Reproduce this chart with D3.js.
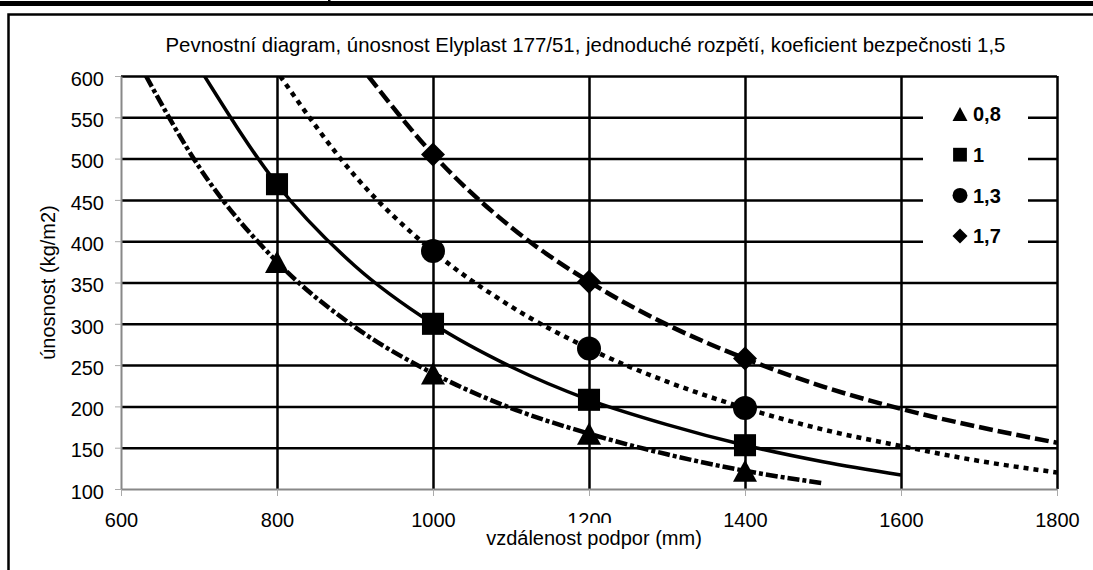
<!DOCTYPE html>
<html>
<head>
<meta charset="utf-8">
<script src="https://cdn.jsdelivr.net/npm/d3@7"></script>
<style>
  body { margin: 0; background: #fff; }
  text { font-family: "Liberation Sans", Arial, sans-serif; }
</style>
</head>
<body>
<div id="chart"></div>
<script>
// axis ticks
var xTicks = [600, 800, 1000, 1200, 1400, 1600, 1800];
var yTicks = [100, 150, 200, 250, 300, 350, 400, 450, 500, 550, 600];

// series (koeficient) names
var names = ["0,8", "1", "1,3", "1,7"];

// measured points (markers)
var pts08 = [[800, 375], [1000, 240], [1200, 167], [1400, 122]];
var pts10 = [[800, 469], [1000, 300], [1200, 208], [1400, 153]];
var pts13 = [[1000, 388], [1200, 270], [1400, 198]];
var pts17 = [[1000, 505], [1200, 351], [1400, 258]];

// trend curves
var trend08 = [[632, 600], [700, 490], [800, 375], [900, 296], [1000, 240], [1100, 198],
               [1200, 167], [1300, 142], [1400, 122], [1500, 107]];
var trend10 = [[707, 600], [800, 469], [900, 370], [1000, 300], [1100, 248], [1200, 208],
               [1300, 178], [1400, 153], [1500, 133], [1600, 117]];
var trend13 = [[804, 600], [900, 479], [1000, 388], [1100, 321], [1200, 270], [1300, 230],
               [1400, 198], [1500, 172], [1600, 152], [1700, 134], [1800, 120]];
var trend17 = [[917, 600], [1000, 505], [1100, 417], [1200, 351], [1300, 299], [1400, 258],
               [1500, 224], [1600, 197], [1700, 175], [1800, 156]];

var series = [
  {name: names[0], pts: pts08, trend: trend08, shape: "triangle", dash: "12,3,4,3", sw: 4.5},
  {name: names[1], pts: pts10, trend: trend10, shape: "square", dash: null, sw: 3.5},
  {name: names[2], pts: pts13, trend: trend13, shape: "circle", dash: "5,5", sw: 4.5},
  {name: names[3], pts: pts17, trend: trend17, shape: "diamond", dash: "14,5", sw: 4.5}
];

var margin = {top: 76, right: 36, bottom: 81, left: 121},
    width = 1093 - margin.left - margin.right,
    height = 570 - margin.top - margin.bottom;

var root = d3.select("#chart")
  .append("svg")
    .attr("width", 1093)
    .attr("height", 570);

// bits of the page above the chart
root.append("rect")
  .attr("x", 0).attr("y", 1).attr("width", 1093).attr("height", 5)
  .attr("fill", "#000");
root.append("rect")
  .attr("x", 328).attr("y", 0).attr("width", 2.5).attr("height", 6)
  .attr("fill", "#000");

// chart frame
root.append("rect")
  .attr("x", 8.5).attr("y", 14.5)
  .attr("width", 1200).attr("height", 700)
  .attr("fill", "#fff")
  .attr("stroke", "#000")
  .attr("stroke-width", 2.5);

var svg = root.append("g")
    .attr("transform", "translate(" + margin.left + "," + margin.top + ")");

var x = d3.scaleLinear()
  .domain([600, 1800])
  .range([0, width]);

var y = d3.scaleLinear()
  .domain([100, 600])
  .range([height, 0]);

// gridlines
svg.append("g")
  .attr("class", "grid")
  .call(d3.axisLeft(y).tickValues(yTicks.slice(1)).tickSize(-width).tickFormat(""))
  .call(function(g) { g.select(".domain").remove(); })
  .selectAll("line")
    .attr("stroke", "#000")
    .attr("stroke-width", 2.5);

svg.append("g")
  .attr("class", "grid")
  .attr("transform", "translate(0," + height + ")")
  .call(d3.axisBottom(x).tickValues(xTicks.slice(1)).tickSize(-height).tickFormat(""))
  .call(function(g) { g.select(".domain").remove(); })
  .selectAll("line")
    .attr("stroke", "#000")
    .attr("stroke-width", 2.5);

// axes
var yAxis = svg.append("g")
  .call(d3.axisLeft(y).tickValues(yTicks).tickFormat(d3.format("d"))
    .tickSize(6).tickSizeOuter(0).tickPadding(11));
yAxis.select(".domain").attr("stroke", "#888").attr("stroke-width", 2);
yAxis.selectAll(".tick line").attr("stroke", "#aaa");
yAxis.selectAll("text")
  .attr("dy", "0.46em")
  .style("font-size", "20px")
  .style("font-family", "'Liberation Sans', Arial, sans-serif")
  .attr("fill", "#000");

var xAxis = svg.append("g")
  .attr("transform", "translate(0," + height + ")")
  .call(d3.axisBottom(x).tickValues(xTicks).tickFormat(d3.format("d"))
    .tickSize(7).tickSizeOuter(0).tickPadding(17));
xAxis.select(".domain").attr("stroke", "#888").attr("stroke-width", 2);
xAxis.selectAll(".tick line").attr("stroke", "#aaa");
xAxis.selectAll("text")
  .style("font-size", "20px")
  .style("font-family", "'Liberation Sans', Arial, sans-serif")
  .attr("fill", "#000");

// clip for curves
svg.append("clipPath")
  .attr("id", "plot-clip")
  .append("rect")
    .attr("x", 0).attr("y", 0)
    .attr("width", width).attr("height", height);

var line = d3.line()
  .x(function(d) { return x(d[0]); })
  .y(function(d) { return y(d[1]); })
  .curve(d3.curveMonotoneX);

svg.append("g")
  .attr("clip-path", "url(#plot-clip)")
  .selectAll("path")
  .data(series)
  .enter()
  .append("path")
    .attr("d", function(d) { return line(d.trend); })
    .attr("fill", "none")
    .attr("stroke", "#000")
    .attr("stroke-width", function(d) { return d.sw; })
    .attr("stroke-dasharray", function(d) { return d.dash; });

function symbol(shape, s) {
  if (shape === "triangle") {
    return "M0," + (-s * 0.92) + "L" + s + "," + (s * 0.92) + "L" + (-s) + "," + (s * 0.92) + "Z";
  } else if (shape === "square") {
    return "M" + (-s * 0.92) + "," + (-s * 0.92) + "h" + (s * 1.84) + "v" + (s * 1.84) + "h" + (-s * 1.84) + "Z";
  } else if (shape === "diamond") {
    return "M0," + (-s) + "L" + s + ",0L0," + s + "L" + (-s) + ",0Z";
  }
  // circle
  return "M" + (-s) + ",0A" + s + "," + s + " 0 1,0 " + s + ",0A" + s + "," + s + " 0 1,0 " + (-s) + ",0Z";
}

// markers
series.forEach(function(s) {
  svg.append("g")
    .selectAll("path")
    .data(s.pts)
    .enter()
    .append("path")
      .attr("transform", function(d) { return "translate(" + x(d[0]) + "," + y(d[1]) + ")"; })
      .attr("d", symbol(s.shape, 12))
      .attr("fill", "#000");
});

// legend
var legend = root.append("g");
legend.append("rect")
  .attr("x", 923).attr("y", 86)
  .attr("width", 105).attr("height", 178)
  .attr("fill", "#fff");

var item = legend.selectAll("g.item")
  .data(series)
  .enter()
  .append("g")
    .attr("class", "item")
    .attr("transform", function(d, i) { return "translate(960," + (114 + i * 40.7) + ")"; });

item.append("path")
  .attr("d", function(d) { return symbol(d.shape, 7.5); })
  .attr("fill", "#000");

item.append("text")
  .attr("x", 13)
  .attr("y", 7.2)
  .style("font-size", "20px")
  .style("font-weight", "bold")
  .text(function(d) { return d.name; });

// titles
root.append("text")
  .attr("x", 585.5)
  .attr("y", 52)
  .attr("text-anchor", "middle")
  .style("font-size", "20.4px")
  .text("Pevnostní diagram, únosnost Elyplast 177/51, jednoduché rozpětí, koeficient bezpečnosti 1,5");

// the axis title box covers the lower part of the "1200" label, as in the original
root.append("rect")
  .attr("x", 482).attr("y", 523)
  .attr("width", 224).attr("height", 30)
  .attr("fill", "#fff");

root.append("text")
  .attr("x", 594)
  .attr("y", 545)
  .attr("text-anchor", "middle")
  .style("font-size", "20px")
  .text("vzdálenost podpor (mm)");

root.append("text")
  .attr("transform", "translate(55," + (margin.top + height / 2) + ") rotate(-90)")
  .attr("text-anchor", "middle")
  .style("font-size", "20px")
  .text("únosnost (kg/m2)");
</script>
</body>
</html>
